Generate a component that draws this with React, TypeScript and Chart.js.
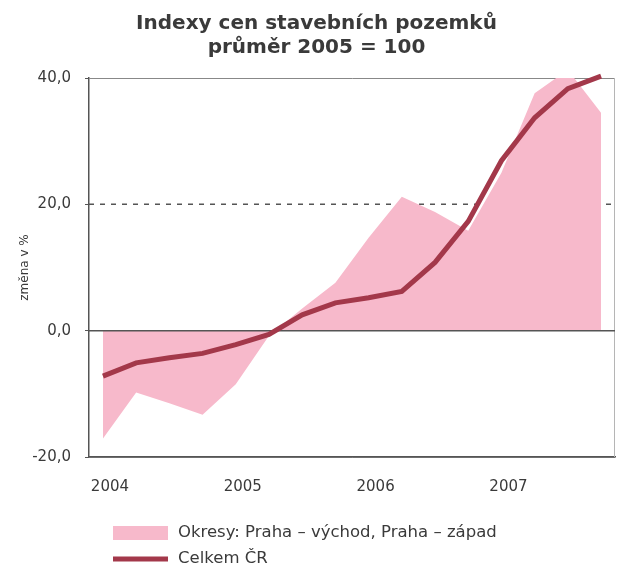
import React, { useEffect, useRef } from "react";
import { Chart, registerables } from "chart.js";

Chart.register(...registerables);

// ---- data ----
const quarters = [
  "I/2004", "II/2004", "III/2004", "IV/2004",
  "I/2005", "II/2005", "III/2005", "IV/2005",
  "I/2006", "II/2006", "III/2006", "IV/2006",
  "I/2007", "II/2007", "III/2007", "IV/2007",
];
const yearTickLabels = ["2004", "2005", "2006", "2007"];
const pragueDistricts = [
  -17.1, -9.8, -11.5, -13.3,
  -8.5, -0.8, 3.5, 7.6,
  14.7, 21.2, 18.8, 15.8,
  25.0, 37.6, 41.3, 34.5,
];
const czechTotal = [
  -7.2, -5.1, -4.3, -3.6,
  -2.2, -0.6, 2.5, 4.4,
  5.2, 6.2, 10.8, 17.3,
  26.9, 33.7, 38.3, 40.3,
];
const titleLines = ["Indexy cen stavebních pozemků", "průměr 2005 = 100"];
const seriesLabels = ["Okresy: Praha – východ, Praha – západ", "Celkem ČR"];
const yAxisTitle = "změna v %";
const dashedLevel = 20;

const FONT = "'DejaVu Sans', sans-serif";
const TEXT = "#3a3a3a";
const AXIS = "#555555";
const PINK = "#f7b9cb";
const RED = "#a3384a";

const toPoints = (vals: number[]) => vals.map((y, i) => ({ x: i, y, q: quarters[i] }));

const refLines = {
  id: "refLines",
  beforeDatasetsDraw(chart: any) {
    const { ctx, chartArea } = chart;
    const y = chart.scales.y.getPixelForValue(dashedLevel);
    ctx.save();
    ctx.strokeStyle = AXIS;
    ctx.lineWidth = 1.5;
    ctx.setLineDash([5, 6]);
    ctx.beginPath();
    ctx.moveTo(chartArea.left, y);
    ctx.lineTo(chartArea.right, y);
    ctx.stroke();
    ctx.setLineDash([]);
    ctx.strokeStyle = "#b5b5b5";
    ctx.lineWidth = 1;
    ctx.beginPath();
    ctx.moveTo(chartArea.right - 0.5, chartArea.top);
    ctx.lineTo(chartArea.right - 0.5, chartArea.bottom);
    ctx.stroke();
    ctx.restore();
  },
  afterDatasetDraw(chart: any, args: any) {
    if (args.index !== 1) return;
    const { ctx, chartArea } = chart;
    const y = chart.scales.y.getPixelForValue(0);
    ctx.save();
    ctx.strokeStyle = AXIS;
    ctx.lineWidth = 1.5;
    ctx.beginPath();
    ctx.moveTo(chartArea.left, y);
    ctx.lineTo(chartArea.right, y);
    ctx.stroke();
    ctx.restore();
  },
};

const customLegend = {
  id: "customLegend",
  afterDraw(chart: any) {
    const { ctx, chartArea } = chart;
    const x0 = chartArea.left + 24;
    const rowY = [chartArea.bottom + 76, chartArea.bottom + 102];
    const sw = 55;
    ctx.save();
    ctx.font = `16.5px ${FONT}`;
    ctx.textBaseline = "middle";
    const ds1 = chart.data.datasets[1];
    ctx.fillStyle = ds1.backgroundColor;
    ctx.fillRect(x0, rowY[0] - 7, sw, 14);
    ctx.fillStyle = TEXT;
    ctx.fillText(ds1.label, x0 + sw + 10, rowY[0]);
    const ds0 = chart.data.datasets[0];
    ctx.strokeStyle = ds0.borderColor;
    ctx.lineWidth = 5;
    ctx.beginPath();
    ctx.moveTo(x0, rowY[1]);
    ctx.lineTo(x0 + sw, rowY[1]);
    ctx.stroke();
    ctx.fillStyle = TEXT;
    ctx.fillText(ds0.label, x0 + sw + 10, rowY[1]);
    ctx.restore();
  },
};

export default function App() {
  const ref = useRef<HTMLCanvasElement | null>(null);

  useEffect(() => {
    document.body.style.margin = "0";
    const canvas = ref.current;
    if (!canvas) return;
    const chart = new Chart(canvas, {
      type: "line",
      data: {
        datasets: [
          {
            label: seriesLabels[1],
            data: toPoints(czechTotal),
            borderColor: RED,
            borderWidth: 5,
            pointRadius: 0,
            fill: false,
            tension: 0,
            order: 0,
            clip: 8,
          } as any,
          {
            label: seriesLabels[0],
            data: toPoints(pragueDistricts),
            backgroundColor: PINK,
            borderColor: PINK,
            borderWidth: 0,
            pointRadius: 0,
            fill: "origin",
            tension: 0,
            order: 1,
            clip: 8,
          } as any,
        ],
      },
      options: {
        responsive: false,
        animation: false,
        devicePixelRatio: 1,
        layout: { padding: { left: 18, right: 2, top: 0, bottom: 74 } },
        plugins: {
          legend: { display: false },
          tooltip: { enabled: false },
          title: {
            display: true,
            text: titleLines,
            color: TEXT,
            font: { family: FONT, size: 20, weight: "bold", lineHeight: 1.2 },
            padding: { top: 12, bottom: 18 },
          },
        },
        scales: {
          x: {
            type: "linear",
            min: -0.42,
            max: quarters.length - 1 + 0.42,
            grid: { display: false, drawTicks: false },
            border: { display: true, color: AXIS, width: 1.5 },
            ticks: {
              stepSize: 4,
              includeBounds: false,
              autoSkip: false,
              maxRotation: 0,
              padding: 21,
              labelOffset: 7,
              color: TEXT,
              font: { family: FONT, size: 15 },
              callback: (v: any) => {
                const n = Number(v);
                return n % 4 === 0 ? yearTickLabels[n / 4] ?? "" : "";
              },
            },
            afterFit: (s: any) => {
              s.height = 40;
            },
          },
          y: {
            min: -20,
            max: 40,
            ticks: {
              stepSize: 20,
              padding: 14,
              color: TEXT,
              font: { family: FONT, size: 15 },
              callback: (v: any) => Number(v).toFixed(1).replace(".", ","),
            },
            grid: {
              color: (c: any) =>
                c.tick && (c.tick.value === dashedLevel || c.tick.value === 0) ? "rgba(0,0,0,0)" : "#888888",
              lineWidth: 1,
              tickLength: 4,
              tickColor: AXIS,
            },
            border: { display: true, color: AXIS, width: 1.5 },
            title: {
              display: true,
              text: yAxisTitle,
              color: TEXT,
              font: { family: FONT, size: 12 },
              padding: { top: 0, bottom: 0 },
            },
            afterFit: (s: any) => {
              s.width = 71;
            },
          },
        },
      },
      plugins: [refLines, customLegend],
    });
    return () => chart.destroy();
  }, []);

  return (
    <div style={{ width: 617, height: 571 }}>
      <canvas ref={ref} width={617} height={571} style={{ display: "block" }} />
    </div>
  );
}
